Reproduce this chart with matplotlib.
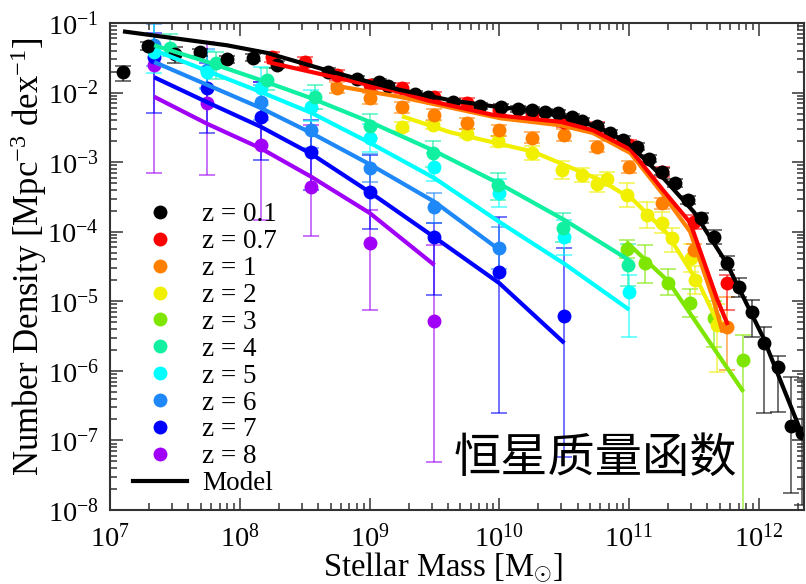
import numpy as np
import matplotlib
matplotlib.use("Agg")
import matplotlib.pyplot as plt
from matplotlib.lines import Line2D
from matplotlib.ticker import LogLocator, FuncFormatter, NullFormatter

plt.rcParams["font.family"] = ["Liberation Serif", "DejaVu Serif"]
plt.rcParams["mathtext.fontset"] = "custom"
plt.rcParams["mathtext.rm"] = "Liberation Serif"
plt.rcParams["mathtext.it"] = "Liberation Serif:italic"

# everything below is log10(M / Msun) and log10(phi / Mpc^-3 dex^-1)
HIGHZ_LOGM = [7.34, 7.75, 8.16, 8.55, 9.0, 9.5, 10.0, 10.5, 11.0]
TEAL_LOGM = [7.46, 7.82, 8.21, 8.58, 9.0, 9.49, 9.99, 10.49, 10.99]

z01_logm = [7.10, 7.29, 7.50, 7.69, 7.90, 8.10, 8.29, 8.68, 8.90, 9.07, 9.14, 9.35, 9.45,
            9.64, 9.85, 10.01, 10.14, 10.25, 10.35, 10.45, 10.56, 10.64, 10.75, 10.85, 10.95,
            11.06, 11.15, 11.25, 11.35, 11.45, 11.55, 11.65, 11.75, 11.85, 11.95, 12.04,
            12.15, 12.25, 12.33]
z01_logphi = [-1.70, -1.33, -1.45, -1.42, -1.52, -1.50, -1.60, -1.70, -1.80, -1.85, -1.90,
              -2.02, -2.06, -2.13, -2.19, -2.21, -2.24, -2.25, -2.28, -2.29, -2.35, -2.41,
              -2.48, -2.58, -2.68, -2.78, -2.95, -3.14, -3.30, -3.54, -3.80, -4.07, -4.45,
              -4.79, -5.15, -5.60, -5.94, -6.79, -6.89]
z01_lo = [0.13, 0.06, 0.12] + [0.05] * 5 + [0.04] * 16 + [0.05] * 4 + [0.06, 0.06, 0.07,
          0.10, 0.10, 0.15, 0.36, 1.00, 0.65, 0.96, 1.04]
z01_hi = [0.08, 0.06, 0.10] + [0.05] * 5 + [0.04] * 16 + [0.05] * 4 + [0.06, 0.06, 0.07,
          0.10, 0.10, 0.12, 0.17, 0.23, 0.16, 0.70, 0.76]
z01_model_logm = [7.10, 7.90, 8.21, 8.67, 9.00, 9.23, 9.62, 10.00, 10.39, 10.78, 11.00,
                  11.25, 11.50, 11.75, 12.03, 12.34]
z01_model_logphi = [-1.12, -1.32, -1.43, -1.68, -1.85, -1.96, -2.11, -2.21, -2.28, -2.51,
                    -2.74, -3.20, -3.72, -4.45, -5.51, -6.95]

z07_logm = [8.25, 8.5, 8.75, 9.0, 9.25, 9.5, 9.75, 10.0, 10.25, 10.5, 10.75, 11.0, 11.25,
            11.5, 11.75]
z07_logphi = [-1.49, -1.56, -1.75, -1.89, -1.93, -2.06, -2.15, -2.25, -2.32, -2.42, -2.49,
              -2.75, -3.14, -3.86, -4.74]
z07_lo = [0.07] * 13 + [0.10, 0.39]
z07_hi = [0.07] * 13 + [0.10, 0.12]
z07_model_logm = [8.21, 9.23, 9.44, 9.95, 10.47, 10.72, 11.01, 11.26, 11.47, 11.68, 11.76]
z07_model_logphi = [-1.56, -1.99, -2.11, -2.32, -2.42, -2.54, -2.82, -3.40, -3.87, -4.98, -5.34]

z1_logm = [8.75, 9.0, 9.25, 9.5, 9.75, 10.0, 10.25, 10.5, 10.75, 11.0, 11.25, 11.5, 11.75]
z1_logphi = [-1.93, -2.08, -2.21, -2.32, -2.44, -2.54, -2.65, -2.61, -2.78, -3.07, -3.59,
             -4.26, -5.37]
z1_lo = [0.08] * 12 + [0.62]
z1_hi = [0.08] * 12 + [0.43]
z1_model_logm = [8.70, 9.23, 10.01, 10.47, 10.72, 11.01, 11.26, 11.47, 11.65, 11.72]
z1_model_logphi = [-1.89, -2.06, -2.37, -2.47, -2.58, -2.87, -3.46, -4.00, -4.98, -5.45]

z2_logm = [9.25, 9.49, 9.75, 9.99, 10.25, 10.48, 10.64, 10.75, 10.83, 10.98, 11.14, 11.25,
           11.33, 11.48, 11.51, 11.68]
z2_logphi = [-2.49, -2.47, -2.59, -2.70, -2.87, -3.11, -3.18, -3.31, -3.24, -3.47, -3.76,
             -3.87, -4.09, -4.38, -4.69, -5.34]
z2_lo = [0.06, 0.06, 0.06, 0.08, 0.10, 0.13, 0.10, 0.12, 0.10, 0.17, 0.18, 0.15, 0.20,
         0.20, 0.20, 0.67]
z2_hi = [0.06, 0.06, 0.06, 0.08, 0.10, 0.12, 0.10, 0.12, 0.10, 0.17, 0.18, 0.15, 0.15,
         0.20, 0.20, 0.30]
z2_model_logm = [9.25, 9.62, 10.26, 10.78, 11.03, 11.29, 11.55, 11.68]
z2_model_logphi = [-2.34, -2.57, -2.85, -3.26, -3.54, -4.02, -4.79, -5.30]

z3_logm = [10.98, 11.12, 11.30, 11.47, 11.65, 11.88]
z3_logphi = [-4.25, -4.45, -4.74, -5.02, -5.24, -5.84]
z3_lo = [0.13, 0.29, 0.17, 0.20, 0.42, 3.0]
z3_hi = [0.13, 0.26, 0.20, 0.19, 0.25, 0.35]
z3_model_logm = [10.98, 11.30, 11.88]
z3_model_logphi = [-4.15, -4.71, -6.30]

z4_logphi = [-1.36, -1.58, -1.82, -2.06, -2.48, -2.87, -3.33, -3.95, -4.48]
z4_lo = [0.12, 0.22, 0.15, 0.18, 0.18, 0.20, 0.22, 0.20, 0.30]
z4_hi = [0.20, 0.17, 0.18, 0.17, 0.17, 0.18, 0.17, 0.22, 0.30]
z4_model_logphi = [-1.32, -1.56, -1.82, -2.08, -2.42, -2.84, -3.31, -3.83, -4.41]

z5_logphi = [-1.42, -1.70, -1.93, -2.21, -2.65, -3.07, -3.44, -4.08, -4.87]
z5_lo = [0.30, 0.25, 0.25, 0.20, 0.20, 0.20, 0.20, 0.25, 0.65]
z5_hi = [0.42, 0.30, 0.30, 0.25, 0.20, 0.20, 0.20, 0.25, 0.25]
z5_model_logphi = [-1.39, -1.69, -1.99, -2.29, -2.72, -3.23, -3.86, -4.46, -5.12]

z6_logphi = [-1.32, -1.68, -2.14, -2.54, -3.08, -3.64, -4.23]
z6_lo = [0.30, 0.25, 0.25, 0.25, 0.20, 0.23, 0.30]
z6_hi = [0.30, 0.30, 0.25, 0.30, 0.20, 0.20, 0.30]
z6_model_logphi = [-1.56, -1.89, -2.22, -2.58, -3.03, -3.57, -4.26]

z7_logphi = [-1.49, -1.93, -2.35, -2.85, -3.43, -4.08, -4.58, -5.21]
z7_lo = [0.80, 0.65, 0.62, 0.55, 0.53, 0.83, 2.03, 2.03]
z7_hi = [0.35, 0.35, 0.50, 0.45, 0.53, 0.20, 0.79, 0.98]
z7_model_logphi = [-1.78, -2.14, -2.49, -2.88, -3.43, -4.08, -4.74, -5.60]

z8_logphi = [-1.60, -2.15, -2.75, -3.36, -4.16, -5.28]
z8_lo = [1.55, 1.03, 1.08, 0.70, 0.96, 2.03]
z8_hi = [0.60, 0.88, 0.90, 0.89, 0.47, 1.09]
z8_model_logphi = [-2.06, -2.45, -2.80, -3.21, -3.73, -4.48]

labels = ["z = 0.1", "z = 0.7", "z = 1", "z = 2", "z = 3", "z = 4", "z = 5", "z = 6",
          "z = 7", "z = 8"]
colors = ["#000000", "#ff0000", "#ff7f00", "#f0f000", "#7ee600", "#10f0a0", "#00ffff",
          "#1e88f8", "#0000ff", "#a000f8"]

series = [
    (z01_logm, z01_logphi, z01_lo, z01_hi, z01_model_logm, z01_model_logphi),
    (z07_logm, z07_logphi, z07_lo, z07_hi, z07_model_logm, z07_model_logphi),
    (z1_logm, z1_logphi, z1_lo, z1_hi, z1_model_logm, z1_model_logphi),
    (z2_logm, z2_logphi, z2_lo, z2_hi, z2_model_logm, z2_model_logphi),
    (z3_logm, z3_logphi, z3_lo, z3_hi, z3_model_logm, z3_model_logphi),
    (TEAL_LOGM, z4_logphi, z4_lo, z4_hi, HIGHZ_LOGM, z4_model_logphi),
    (HIGHZ_LOGM, z5_logphi, z5_lo, z5_hi, HIGHZ_LOGM, z5_model_logphi),
    (HIGHZ_LOGM[:7], z6_logphi, z6_lo, z6_hi, HIGHZ_LOGM[:7], z6_model_logphi),
    (HIGHZ_LOGM[:8], z7_logphi, z7_lo, z7_hi, HIGHZ_LOGM[:8], z7_model_logphi),
    (HIGHZ_LOGM[:6], z8_logphi, z8_lo, z8_hi, HIGHZ_LOGM[:6], z8_model_logphi),
]

fig = plt.figure(figsize=(8.06, 5.84), dpi=100)
ax = fig.add_axes([110 / 806, 74 / 584, 694 / 806, 487 / 584])

# draw high z first so the low z curves sit on top
for (lm, lp, lo, hi, mlm, mlp), col in reversed(list(zip(series, colors))):
    m = 10 ** np.array(lm)
    phi = 10 ** np.array(lp)
    yerr = [phi - phi * 10 ** -np.array(lo), phi * 10 ** np.array(hi) - phi]
    ax.errorbar(m, phi, yerr=yerr, fmt="none", ecolor=col, alpha=0.7, elinewidth=1.1,
                capsize=6, capthick=1.1, zorder=1)
    ax.plot(m, phi, "o", color=col, ms=10, mec="none", zorder=2)
    ax.plot(10 ** np.array(mlm), 10 ** np.array(mlp), "-", color=col, lw=3,
            solid_capstyle="butt", zorder=3)

ax.set_xscale("log")
ax.set_yscale("log")
ax.set_xlim(1e7, 10 ** 12.347)
ax.set_ylim(1e-8, 1e-1)

fmt = FuncFormatter(lambda v, pos: r"$10^{%d}$" % round(np.log10(v)))
for axis in (ax.xaxis, ax.yaxis):
    axis.set_major_locator(LogLocator(base=10, numticks=20))
    axis.set_minor_locator(LogLocator(base=10, subs=np.arange(2, 10), numticks=20))
    axis.set_major_formatter(fmt)
    axis.set_minor_formatter(NullFormatter())
ax.tick_params(which="both", direction="in", top=True, right=True, width=1.1,
               color="#333333", labelsize=20.5)
ax.tick_params(which="major", length=9)
ax.tick_params(which="minor", length=5)
ax.tick_params(axis="x", which="major", pad=10)
ax.tick_params(axis="y", which="major", pad=8)
for sp in ax.spines.values():
    sp.set_linewidth(1.5)
    sp.set_color("#333333")

ax.set_xlabel(r"Stellar Mass [M$_{\odot}$]", fontsize=23.5)
ax.xaxis.set_label_coords(0.48, -0.083)
ax.set_ylabel(r"Number Density [Mpc$^{-3}$ dex$^{-1}$]", fontsize=25)
ax.yaxis.set_label_coords(-0.088, 0.52)

handles = [Line2D([], [], ls="none", marker="o", ms=10, mec="none", color=c) for c in colors]
handles.append(Line2D([], [], color="black", lw=3))
ax.legend(handles, labels + ["Model"], loc="center left", bbox_to_anchor=(0.033, 0.33),
          frameon=False, fontsize=19.5, handlelength=2.0, handletextpad=0.55,
          labelspacing=0.07, borderpad=0, borderaxespad=0)

ax.text(0.70, 0.105, "恒星质量函数", transform=ax.transAxes, ha="center", va="center",
        fontsize=34, family=["Noto Sans CJK SC", "DejaVu Sans"])

fig.savefig("out.png", dpi=100)
